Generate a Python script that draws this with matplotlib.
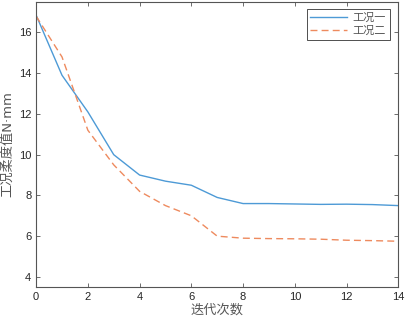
import numpy as np
import matplotlib.pyplot as plt

plt.rcParams['font.family'] = ['Liberation Sans', 'Noto Sans CJK SC', 'DejaVu Sans']

iters = [0, 1, 2, 3, 4, 5, 6, 7, 8, 9, 10, 11, 12, 13, 14]
case1 = [16.85, 13.9, 12.1, 10.0, 9.0, 8.7, 8.5, 7.9, 7.6, 7.6, 7.58, 7.56, 7.57, 7.55, 7.5]
case2 = [16.8, 14.8, 11.2, 9.5, 8.2, 7.5, 7.0, 6.0, 5.9, 5.88, 5.87, 5.85, 5.8, 5.78, 5.75]
labels = ['工况一', '工况二']

fig = plt.figure(figsize=(4.06, 3.24), dpi=100)
ax = fig.add_axes([0.089, 0.114, 0.892, 0.880])

ax.plot(iters, case1, color='#4d9ad6', lw=1.0, label=labels[0])
ax.plot(iters, case2, color='#ee8a5e', lw=1.0, ls=(0, (5, 3)), label=labels[1])

ax.set_xlim(0, 14)
ax.set_ylim(3.5, 17.5)
ax.set_xticks(np.arange(0, 15, 2))
ax.set_yticks(np.arange(4, 17, 2))
ax.tick_params(direction='in', top=True, right=True, labelsize=8, length=3,
               color='#555555', labelcolor='#262626', width=0.6)
for s in ax.spines.values():
    s.set_color('#555555')
    s.set_linewidth(0.8)

ax.set_xlabel('迭代次数', fontsize=9.5, color='#555555', family=['Noto Sans CJK SC'], labelpad=1)
ax.set_ylabel('工况柔度值N·mm', fontsize=9.5, color='#555555',
              family=['DejaVu Sans', 'Noto Sans CJK SC'], labelpad=3)

leg = ax.legend(loc='upper right', bbox_to_anchor=(0.977, 0.975), fancybox=False, framealpha=1,
                edgecolor='#333333', handlelength=3.3, borderpad=0.35, labelspacing=0.25,
                handletextpad=0.5, borderaxespad=0,
                prop={'family': ['Noto Sans CJK SC'], 'size': 8})
leg.get_frame().set_linewidth(0.6)
for t in leg.get_texts():
    t.set_color('#555555')

fig.savefig('out.png', dpi=100)
